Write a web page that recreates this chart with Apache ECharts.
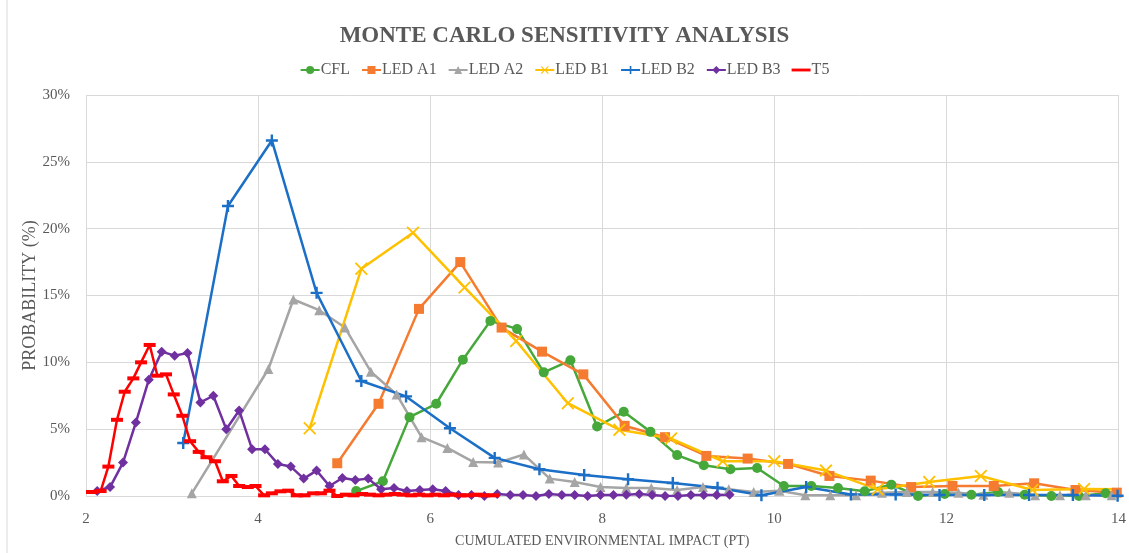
<!DOCTYPE html>
<html>
<head>
<meta charset="utf-8">
<title>Monte Carlo sensitivity analysis</title>
<script src="https://cdn.jsdelivr.net/npm/echarts@6/dist/echarts.min.js"></script>
<style>
  html, body { margin: 0; padding: 0; background: #fff; }
  #chart { width: 1129px; height: 553px; }
</style>
</head>
<body>
<div id="chart"></div>
<script>
// series names (legend order)
var seriesNames = ['CFL', 'LED A1', 'LED A2', 'LED B1', 'LED B2', 'LED B3', 'T5'];

// x = cumulated environmental impact (Pt), y = probability (%)
var cflX = [5.14, 5.45, 5.76, 6.07, 6.38, 6.70, 7.01, 7.32, 7.63, 7.94, 8.25, 8.56, 8.87, 9.18, 9.49, 9.80, 10.11, 10.43, 10.74, 11.05, 11.36, 11.67, 11.98, 12.29, 12.60, 12.91, 13.22, 13.54, 13.85];
var cflY = [0.37, 1.1, 5.9, 6.9, 10.2, 13.1, 12.5, 9.25, 10.15, 5.2, 6.3, 4.8, 3.06, 2.3, 2.0, 2.1, 0.75, 0.75, 0.6, 0.35, 0.85, 0.0, 0.15, 0.1, 0.3, 0.1, 0.0, 0.0, 0.2];

var ledA1X = [4.92, 5.40, 5.87, 6.35, 6.83, 7.30, 7.78, 8.26, 8.73, 9.21, 9.69, 10.16, 10.64, 11.12, 11.59, 12.07, 12.55, 13.02, 13.50, 13.98];
var ledA1Y = [2.45, 6.9, 14.0, 17.5, 12.6, 10.8, 9.1, 5.25, 4.4, 3.0, 2.8, 2.4, 1.5, 1.15, 0.67, 0.75, 0.75, 0.95, 0.45, 0.25];

var ledA2X = [3.23, 4.12, 4.41, 4.71, 5.01, 5.31, 5.61, 5.90, 6.20, 6.50, 6.79, 7.09, 7.39, 7.68, 7.98, 8.28, 8.57, 8.87, 9.17, 9.47, 9.76, 10.06, 10.36, 10.65, 10.95, 11.25, 11.54, 11.84, 12.14, 12.43, 12.73, 13.03, 13.32, 13.62, 13.92];
var ledA2Y = [0.2, 9.5, 14.7, 13.9, 12.6, 9.3, 7.6, 4.4, 3.6, 2.55, 2.5, 3.1, 1.3, 1.05, 0.67, 0.6, 0.6, 0.45, 0.67, 0.5, 0.3, 0.4, 0.05, 0.05, 0.05, 0.25, 0.3, 0.3, 0.25, 0.1, 0.25, 0.05, 0.05, 0.05, 0.05];

var ledB1X = [4.60, 5.20, 5.80, 6.40, 7.00, 7.60, 8.20, 8.80, 9.40, 10.00, 10.60, 11.20, 11.80, 12.40, 13.00, 13.60, 14.20];
var ledB1Y = [5.07, 17.0, 19.7, 15.6, 11.6, 6.94, 4.95, 4.3, 2.6, 2.6, 1.9, 0.5, 1.05, 1.5, 0.45, 0.52, 0.5];

var ledB2X = [3.13, 3.65, 4.16, 4.68, 5.20, 5.72, 6.23, 6.75, 7.27, 7.79, 8.30, 8.82, 9.34, 9.85, 10.37, 10.89, 11.41, 11.92, 12.44, 12.96, 13.47, 13.99];
var ledB2Y = [3.96, 21.7, 26.6, 15.2, 8.6, 7.45, 5.07, 2.85, 2.0, 1.57, 1.25, 0.97, 0.62, 0.05, 0.67, 0.12, 0.12, 0.07, 0.07, 0.07, 0.07, 0.02];

var ledB3X = [2.13, 2.28, 2.43, 2.58, 2.73, 2.88, 3.03, 3.18, 3.33, 3.48, 3.63, 3.78, 3.93, 4.08, 4.23, 4.38, 4.53, 4.68, 4.83, 4.98, 5.13, 5.28, 5.43, 5.58, 5.73, 5.88, 6.03, 6.18, 6.33, 6.48, 6.63, 6.78, 6.93, 7.08, 7.23, 7.38, 7.53, 7.68, 7.83, 7.98, 8.13, 8.28, 8.43, 8.58, 8.73, 8.88, 9.03, 9.18, 9.33, 9.48];
var ledB3Y = [0.37, 0.67, 2.5, 5.5, 8.7, 10.8, 10.5, 10.7, 7.0, 7.5, 5.0, 6.4, 3.5, 3.5, 2.4, 2.2, 1.3, 1.9, 0.75, 1.35, 1.2, 1.3, 0.5, 0.6, 0.37, 0.45, 0.5, 0.37, 0.07, 0.07, 0.0, 0.15, 0.07, 0.07, 0.0, 0.15, 0.07, 0.07, 0.0, 0.07, 0.07, 0.1, 0.15, 0.07, 0.0, 0.0, 0.07, 0.07, 0.07, 0.1];

var t5X = [2.07, 2.17, 2.26, 2.36, 2.45, 2.55, 2.64, 2.74, 2.83, 2.93, 3.02, 3.12, 3.21, 3.31, 3.40, 3.50, 3.59, 3.69, 3.78, 3.88, 3.97, 4.07, 4.16, 4.26, 4.35, 4.45, 4.54, 4.64, 4.73, 4.83, 4.92, 5.02, 5.11, 5.21, 5.30, 5.40, 5.49, 5.59, 5.68, 5.78, 5.87, 5.97, 6.06, 6.16, 6.25, 6.35, 6.44, 6.54, 6.63, 6.73];
var t5Y = [0.3, 0.37, 2.2, 5.7, 7.8, 8.8, 10.0, 11.3, 9.0, 9.1, 7.6, 6.0, 4.1, 3.3, 2.9, 2.6, 1.1, 1.5, 0.75, 0.67, 0.75, 0.05, 0.2, 0.35, 0.4, 0.05, 0.05, 0.2, 0.2, 0.4, 0.0, 0.1, 0.05, 0.15, 0.1, 0.05, 0.1, 0.15, 0.1, 0.05, 0.1, 0.05, 0.1, 0.05, 0.1, 0.05, 0.05, 0.1, 0.05, 0.05];

var xTicks = [2, 4, 6, 8, 10, 12, 14];
var yTicks = [0, 5, 10, 15, 20, 25, 30];

var colors = ['#46a83a', '#f47b30', '#a5a5a5', '#ffc000', '#1c6fc7', '#7030a0', '#ff0000'];

// marker shapes
var plusPath = 'path://M4,0h2v4h4v2h-4v4h-2v-4h-4v-2h4z';
var crossPath = 'path://M1,0L5,4L9,0L10,1L6,5L10,9L9,10L5,6L1,10L0,9L4,5L0,1Z';
var dashIcon = 'path://M0,3.5h20v3h-20z';
var symbols = ['circle', 'rect', 'triangle', crossPath, plusPath, 'diamond', 'rect'];
var symbolSizes = [10, 10, 10, 13, 12, 10, [12, 4]];

var xs = [cflX, ledA1X, ledA2X, ledB1X, ledB2X, ledB3X, t5X];
var ys = [cflY, ledA1Y, ledA2Y, ledB1Y, ledB2Y, ledB3Y, t5Y];

function pairs(x, y) {
  var out = [];
  for (var i = 0; i < x.length; i++) out.push([x[i], y[i]]);
  return out;
}

var series = seriesNames.map(function (name, i) {
  return {
    name: name,
    type: 'line',
    data: pairs(xs[i], ys[i]),
    symbol: symbols[i],
    symbolSize: symbolSizes[i],
    showAllSymbol: true,
    clip: true,
    lineStyle: { width: 2.5, color: colors[i] },
    itemStyle: { color: colors[i] }
  };
});

// the T5 legend entry is just a red dash
var legendData = seriesNames.map(function (name) {
  return name === 'T5' ? { name: name, icon: dashIcon } : { name: name };
});

var serif = '"Liberation Serif", "DejaVu Serif", serif';

var chart = echarts.init(document.getElementById('chart'));
chart.setOption({
  animation: false,
  color: colors,
  title: {
    text: 'MONTE CARLO SENSITIVITY ANALYSIS',
    left: 'center',
    top: 20,
    textStyle: { fontFamily: serif, fontSize: 23, fontWeight: 'bold', color: '#595959' }
  },
  legend: {
    data: legendData,
    top: 57,
    left: 'center',
    itemWidth: 19,
    itemHeight: 10,
    itemGap: 11,
    selectedMode: false,
    textStyle: { fontFamily: serif, fontSize: 16, color: '#595959', padding: [0, 0, 0, -4] }
  },
  graphic: [{
    type: 'rect',
    shape: { x: 7, y: -5, width: 1200, height: 600 },
    style: { fill: 'none', stroke: '#d9d9d9', lineWidth: 1 },
    silent: true
  }],
  grid: { left: 86, right: 9, top: 95, bottom: 56 },
  xAxis: {
    type: 'value',
    min: xTicks[0],
    max: xTicks[xTicks.length - 1],
    interval: 2,
    name: 'CUMULATED ENVIRONMENTAL IMPACT (PT)',
    nameLocation: 'middle',
    nameGap: 38,
    nameTextStyle: { fontFamily: serif, fontSize: 14, color: '#595959' },
    axisLine: { show: false },
    axisTick: { show: false },
    axisLabel: { fontFamily: serif, fontSize: 15, color: '#595959', margin: 16 },
    splitLine: { show: true, lineStyle: { color: '#d9d9d9', width: 1 } }
  },
  yAxis: {
    type: 'value',
    min: yTicks[0],
    max: yTicks[yTicks.length - 1],
    interval: 5,
    name: 'PROBABILITY (%)',
    nameLocation: 'middle',
    nameGap: 47,
    nameMoveOverlap: false,
    nameTextStyle: { fontFamily: serif, fontSize: 18, color: '#595959' },
    axisLine: { show: false },
    axisTick: { show: false },
    axisLabel: { fontFamily: serif, fontSize: 15, color: '#595959', margin: 16, formatter: '{value}%' },
    splitLine: { show: true, lineStyle: { color: '#d9d9d9', width: 1 } }
  },
  series: series
});
</script>
</body>
</html>
